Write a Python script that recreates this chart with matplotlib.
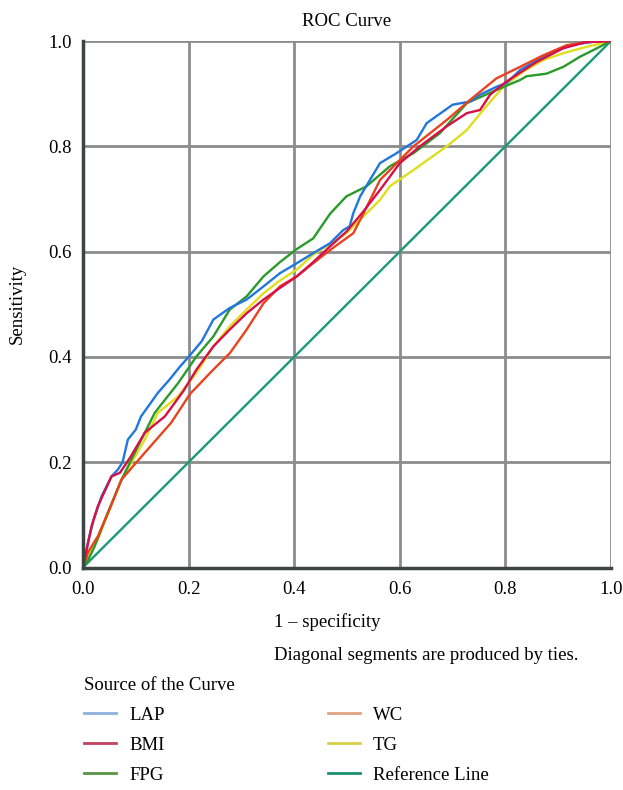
import matplotlib
matplotlib.use('Agg')
from matplotlib import pyplot as plt
from matplotlib.lines import Line2D

plt.rcParams['font.family'] = ['Liberation Serif', 'DejaVu Serif']

# ROC points (1 - specificity, sensitivity)
lap_x = [0, 0.01, 0.02, 0.035, 0.054, 0.066, 0.075, 0.085, 0.10, 0.11, 0.142, 0.164, 0.184, 0.20, 0.225,
         0.247, 0.278, 0.31, 0.342, 0.373, 0.405, 0.436, 0.468, 0.493, 0.505, 0.512, 0.525, 0.5625, 0.594,
         0.632, 0.651, 0.70, 0.733, 0.752, 0.783, 0.802, 0.828, 0.872, 0.922, 0.97, 1.0]
lap_y = [0, 0.05, 0.09, 0.135, 0.173, 0.186, 0.20, 0.243, 0.262, 0.287, 0.332, 0.357, 0.382, 0.40, 0.43,
         0.471, 0.493, 0.509, 0.534, 0.559, 0.578, 0.597, 0.616, 0.641, 0.648, 0.673, 0.705, 0.768, 0.787,
         0.812, 0.844, 0.879, 0.885, 0.898, 0.913, 0.920, 0.945, 0.970, 0.992, 0.999, 1.0]

bmi_x = [0, 0.016, 0.028, 0.054, 0.07, 0.09, 0.117, 0.155, 0.19, 0.215, 0.247, 0.278, 0.31, 0.342, 0.373,
         0.405, 0.436, 0.468, 0.499, 0.53, 0.5625, 0.60, 0.638, 0.689, 0.727, 0.752, 0.771, 0.802, 0.859,
         0.909, 0.953, 1.0]
bmi_y = [0, 0.078, 0.116, 0.173, 0.18, 0.21, 0.256, 0.287, 0.335, 0.376, 0.42, 0.452, 0.483, 0.509, 0.531,
         0.553, 0.58, 0.61, 0.638, 0.675, 0.717, 0.768, 0.80, 0.838, 0.863, 0.869, 0.898, 0.923, 0.960,
         0.986, 0.998, 1.0]

fpg_x = [0, 0.01, 0.022, 0.047, 0.073, 0.104, 0.136, 0.18, 0.215, 0.247, 0.278, 0.31, 0.342, 0.373, 0.405,
         0.436, 0.468, 0.499, 0.537, 0.581, 0.626, 0.676, 0.727, 0.783, 0.828, 0.84, 0.878, 0.91, 0.941,
         0.973, 1.0]
fpg_y = [0, 0.015, 0.04, 0.104, 0.167, 0.23, 0.294, 0.35, 0.401, 0.439, 0.49, 0.515, 0.553, 0.58, 0.605,
         0.625, 0.672, 0.705, 0.724, 0.762, 0.787, 0.825, 0.882, 0.907, 0.926, 0.933, 0.938, 0.951, 0.970,
         0.986, 1.0]

wc_x = [0, 0.01, 0.028, 0.05, 0.073, 0.117, 0.167, 0.203, 0.247, 0.278, 0.31, 0.342, 0.373, 0.405, 0.436,
        0.468, 0.512, 0.53, 0.5625, 0.626, 0.689, 0.733, 0.783, 0.828, 0.872, 0.916, 0.953, 1.0]
wc_y = [0, 0.03, 0.059, 0.11, 0.167, 0.218, 0.275, 0.33, 0.376, 0.407, 0.452, 0.502, 0.534, 0.553, 0.578,
        0.603, 0.635, 0.67, 0.736, 0.80, 0.85, 0.888, 0.929, 0.951, 0.973, 0.992, 0.998, 1.0]

tg_x = [0, 0.01, 0.028, 0.05, 0.073, 0.117, 0.142, 0.18, 0.215, 0.247, 0.278, 0.31, 0.342, 0.373, 0.405,
        0.436, 0.499, 0.5625, 0.581, 0.626, 0.689, 0.727, 0.758, 0.796, 0.834, 0.872, 0.91, 0.954, 1.0]
tg_y = [0, 0.025, 0.053, 0.11, 0.167, 0.243, 0.294, 0.325, 0.37, 0.42, 0.458, 0.49, 0.521, 0.545, 0.566,
        0.594, 0.635, 0.698, 0.724, 0.755, 0.80, 0.831, 0.869, 0.913, 0.942, 0.964, 0.977, 0.989, 1.0]

ref_x = [0, 1]
ref_y = [0, 1]

labels = ['LAP', 'BMI', 'FPG', 'WC', 'TG', 'Reference Line']
line_colors = ['#2277dd', '#d81048', '#2a9a2a', '#e8431e', '#dede1c', '#1a9a78']
legend_colors = ['#8eb0dc', '#c44060', '#5a9445', '#e0a484', '#d8d048', '#1a9070']
ticks = [0.0, 0.2, 0.4, 0.6, 0.8, 1.0]

FS = 13.5

fig = plt.figure(figsize=(6.23, 7.90), dpi=100)
ax = fig.add_axes([0.1332, 0.2816, 0.8475, 0.6665])

curves = [(lap_x, lap_y), (bmi_x, bmi_y), (fpg_x, fpg_y), (wc_x, wc_y), (tg_x, tg_y), (ref_x, ref_y)]
order = [5, 4, 2, 0, 3, 1]
for i in order:
    cx, cy = curves[i]
    ax.plot(cx, cy, color=line_colors[i], lw=1.7, zorder=3, solid_joinstyle='miter')

ax.set_xlim(0, 1)
ax.set_ylim(0, 1)
ax.set_xticks(ticks)
ax.set_yticks(ticks)
ax.set_xticklabels(['%.1f' % t for t in ticks])
ax.set_yticklabels(['%.1f' % t for t in ticks])
ax.tick_params(length=0, labelsize=FS, pad=8)
ax.tick_params(axis='x', pad=10)
ax.grid(True, color='#8c8c8c', lw=2, zorder=1)
for s in ['top', 'right']:
    ax.spines[s].set_visible(False)
for s in ['left', 'bottom']:
    ax.spines[s].set_color('#3c4444')
    ax.spines[s].set_linewidth(2.5)
    ax.spines[s].set_zorder(4)

ax.set_title('ROC Curve', fontsize=FS, pad=11)
ax.set_ylabel('Sensitivity', fontsize=FS, labelpad=16)

fig.text(327 / 623, 1 - 622 / 790, '1 \u2013 specificity', fontsize=FS, ha='center', va='center')
fig.text(578 / 623, 1 - 655 / 790, 'Diagonal segments are produced by ties.', fontsize=FS,
         ha='right', va='center')

handles = [Line2D([], [], color=c, lw=2) for c in legend_colors]
leg = fig.legend(handles, labels, ncol=2, loc='upper left', bbox_to_anchor=(84 / 623, 1 - 677 / 790),
                 frameon=False, title='Source of the Curve', title_fontsize=FS, fontsize=FS,
                 alignment='left', borderpad=0, borderaxespad=0, handlelength=1.7, handletextpad=0.7,
                 columnspacing=8.7, labelspacing=0.68)

plt.savefig('out.png', dpi=100)
